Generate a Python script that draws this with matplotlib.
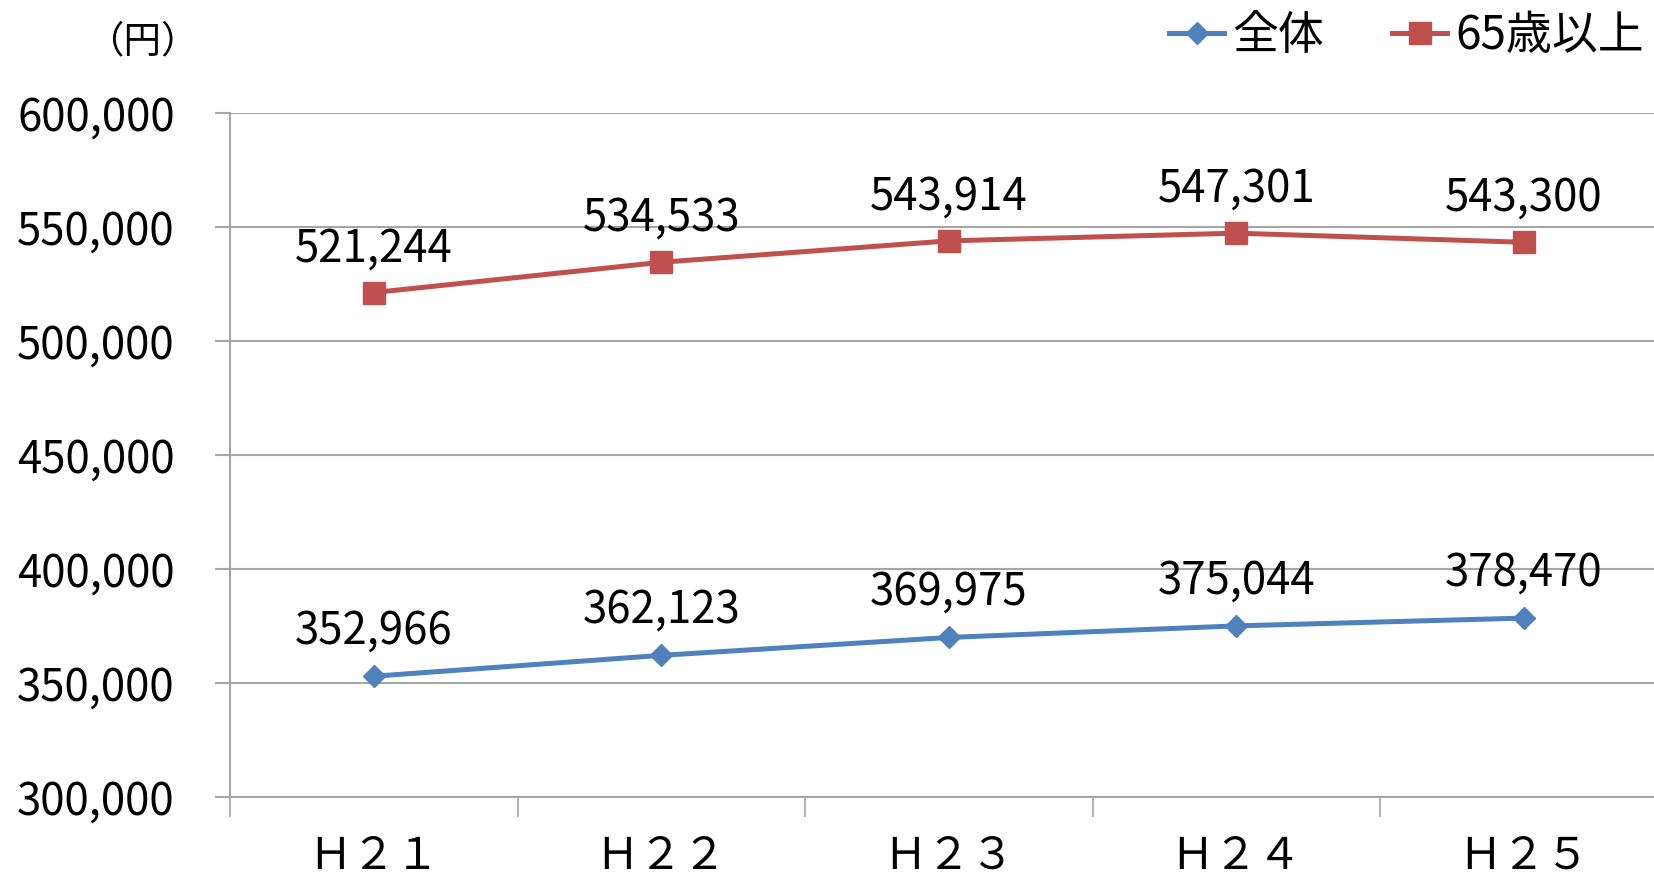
import matplotlib
matplotlib.use("Agg")
import matplotlib.pyplot as plt
from matplotlib.ticker import FuncFormatter, FixedLocator

plt.rcParams['font.family'] = ['Noto Sans CJK JP', 'DejaVu Sans']

categories = ["Ｈ２１", "Ｈ２２", "Ｈ２３", "Ｈ２４", "Ｈ２５"]
total = [352966, 362123, 369975, 375044, 378470]
senior = [521244, 534533, 543914, 547301, 543300]
series_names = ["全体", "65歳以上"]
unit_label = "（円）"

blue = "#4F81BD"
red = "#C0504D"
grid_c = "#A6A6A6"

fig = plt.figure(figsize=(16.54, 8.8), dpi=100)
ax = fig.add_axes([230/1654, 1-797/880, (1667.5-230)/1654, (797-113)/880])

x = list(range(len(categories)))
l1, = ax.plot(x, total, color=blue, lw=3.6, marker='D', markersize=11,
              label=series_names[0], clip_on=False)
l2, = ax.plot(x, senior, color=red, lw=3.6, marker='s', markersize=15.5,
              label=series_names[1], clip_on=False)

for xi, v in zip(x, total):
    ax.annotate(f"{v:,}", (xi, v), xytext=(0, 23.5), textcoords='offset points',
                ha='center', va='baseline', fontsize=31.5)
for xi, v in zip(x, senior):
    ax.annotate(f"{v:,}", (xi, v), xytext=(0, 22.5), textcoords='offset points',
                ha='center', va='baseline', fontsize=31.5)

ax.set_xlim(-0.5, len(categories) - 0.5)
ax.set_ylim(300000, 600000)
ax.set_yticks(range(300000, 600001, 50000))
ax.yaxis.set_major_formatter(FuncFormatter(lambda v, p: f"{int(v):,}"))
ax.yaxis.grid(True, color=grid_c, lw=1.5)
ax.set_axisbelow(True)

ax.set_xticks(x)
ax.set_xticklabels(categories, fontsize=31.5)
ax.xaxis.set_minor_locator(FixedLocator([i - 0.5 for i in range(len(categories) + 1)]))
ax.tick_params(axis='x', which='major', length=0, pad=26)
ax.tick_params(axis='x', which='minor', length=14.5, width=1.2, color=grid_c)
ax.tick_params(axis='y', which='major', length=10.8, width=1.5, color=grid_c,
               pad=29, labelsize=31.5)

for s in ['top', 'right']:
    ax.spines[s].set_visible(False)
for s in ['left', 'bottom']:
    ax.spines[s].set_color(grid_c)
    ax.spines[s].set_linewidth(1.5)

fig.text(199/1654, 1-42/880, unit_label, ha='right', va='center', fontsize=27)

leg = fig.legend(handles=[l1, l2], loc='center left',
                 bbox_to_anchor=(1169/1654, 1-36/880), ncol=2, frameon=False,
                 fontsize=33, handlelength=1.2, handletextpad=0.17,
                 columnspacing=1.5, borderpad=0, borderaxespad=0)

fig.savefig("out.png", dpi=100)
